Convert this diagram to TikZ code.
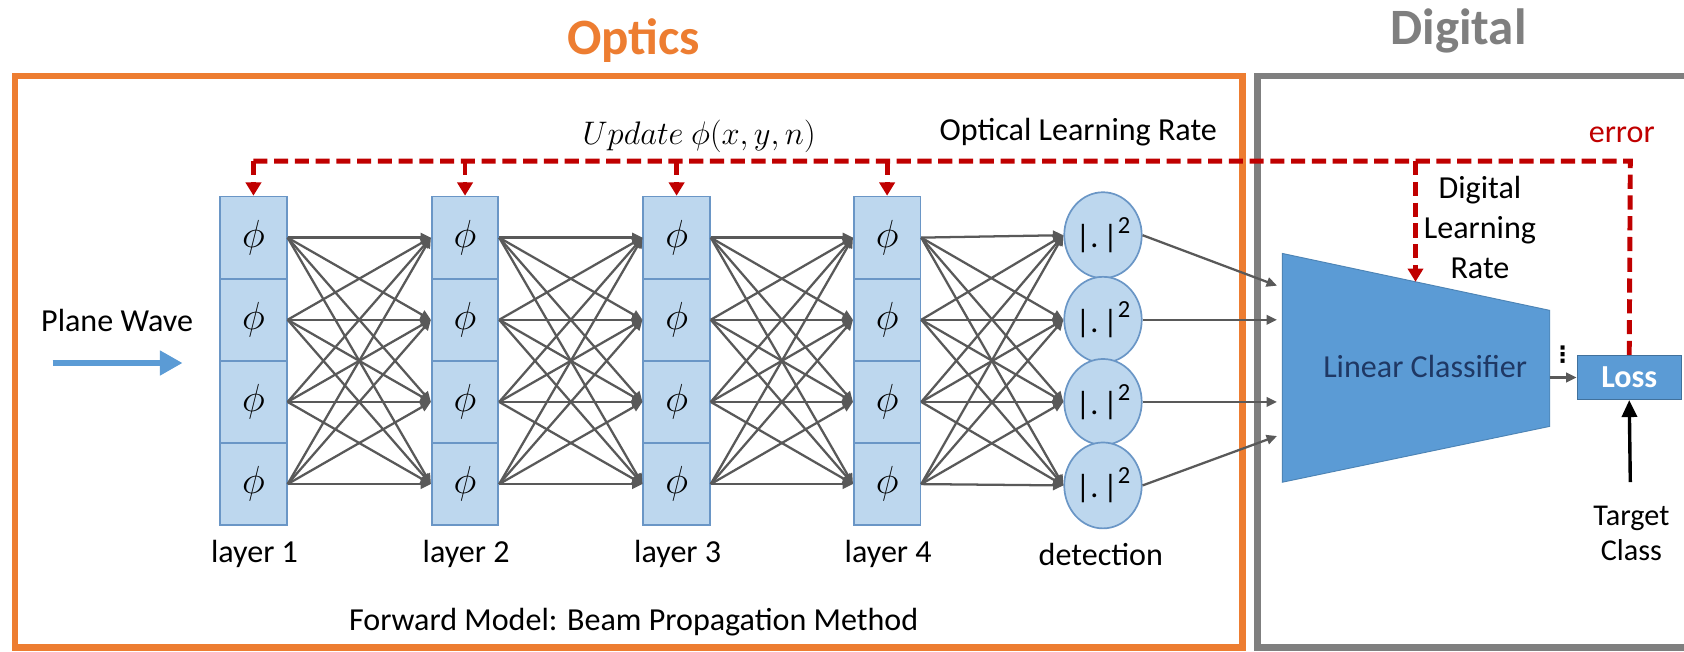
\documentclass[tikz,border=0pt]{standalone}
\usepackage{fontspec}
\setmainfont{Carlito}
\newfontfamily\djv{DejaVu Sans}
\usetikzlibrary{arrows.meta,shapes.geometric,calc}
\definecolor{orng}{HTML}{ED7D31}
\definecolor{gry}{HTML}{7F7F7F}
\definecolor{cellfill}{HTML}{BDD7EE}
\definecolor{celldraw}{HTML}{6A96C6}
\definecolor{midblue}{HTML}{5B9BD5}
\definecolor{boxedge}{HTML}{41719C}
\definecolor{darkred}{HTML}{C00000}
\definecolor{linegray}{HTML}{595959}
\definecolor{navy}{HTML}{1F3864}
\tikzset{
  txt/.style={font=\fontsize{17}{20}\selectfont, inner sep=0pt},
  title/.style={font=\fontsize{27}{30}\selectfont\bfseries, inner sep=0pt},
  cellbox/.style={draw=celldraw, fill=cellfill, line width=0.9pt, minimum width=1.24cm, minimum height=1.53cm, inner sep=0pt, font=\fontsize{20}{24}\selectfont},
  detect/.style={ellipse, draw=celldraw, fill=cellfill, line width=0.9pt, minimum width=1.36cm, minimum height=1.6cm, inner sep=0pt, font=\fontsize{17}{20}\selectfont},
  fc/.style={draw=linegray, line width=1.2pt, -{Triangle[width=5pt,length=5.5pt]}},
  reddash/.style={draw=darkred, line width=2.6pt, dash pattern=on 7.5pt off 3.5pt},
  redarrow/.style={reddash, -{Triangle[width=8pt,length=7pt]}},
  blackarrow/.style={draw=black, line width=1.8pt, -{Triangle[width=8pt,length=9pt]}},
  wavearrow/.style={draw=midblue, line width=3.4pt, -{Triangle[width=12.5pt,length=12pt]}},
  frame/.style={line width=3.4pt},
}
\begin{document}
\begin{tikzpicture}[x=0.02cm,y=-0.02cm]
\useasboundingbox (0,0) rectangle (1568,607);
\clip (0,0) rectangle (1568,607);
\fill[white] (0,0) rectangle (1568,607);

% frames
\draw[frame, orng] (13.7,70.8) rectangle (1157,603);
\draw[frame, gry] (1171,70.8) rectangle (1600,603);
\node[title, text=orng] (optics) at (590,38) {Optics};
\node[title, text=gry] (digital) at (1358,29) {Digital};

% plane wave
\node[txt] (pw) at (109,298) {Plane Wave};
\coordinate (pwa) at (49,338);
\coordinate (pwb) at (170,338);
\draw[wavearrow] (pwa) -- (pwb);

% layers
\foreach \l/\x in {1/236,2/433,3/630,4/826}{
  \foreach \r/\y in {1/221.25,2/297.75,3/374.25,4/450.75}{
    \node[cellbox] (L\l-\r) at (\x,\y) {$\phi$};
  }
  \node[txt] (lab\l) at (\x+1,516) {layer \l};
}
% detection
\foreach \r/\y in {1/219,2/297.75,3/374.25,4/452}{
  \node[detect] (D\r) at (1027,\y) {|.\kern2.5pt|\raisebox{0.45em}{\fontsize{13}{13}\selectfont 2}};
}
\node[txt] (labd) at (1025,516) {detection};

% fully connected
\foreach \a/\b in {1/2,2/3,3/4}{
  \foreach \i in {1,...,4}{
    \foreach \j in {1,...,4}{
      \draw[fc] (L\a-\i.east) -- (L\b-\j.west);
    }
  }
}
\foreach \i in {1,...,4}{
  \foreach \j in {1,...,4}{
    \draw[fc] (L4-\i.east) -- (D\j.west);
  }
}

\node[txt] (fwd) at (590,579) {Forward Model: Beam Propagation Method};

% classifier
\coordinate (tA) at (1194,236);
\coordinate (tB) at (1443,289);
\coordinate (tC) at (1443,397);
\coordinate (tD) at (1194,449);
\filldraw[fill=midblue, draw=midblue!85!black, line width=0.5pt] (tA) -- (tB) -- (tC) -- (tD) -- cycle;
\node[txt, text=navy] (lc) at (1327,341) {Linear Classifier};
\coordinate (t1) at (1189,266);
\coordinate (t2) at (1189,297.75);
\coordinate (t3) at (1189,374.25);
\coordinate (t4) at (1189,406);
\draw[fc] (D1.east) -- (t1);
\draw[fc] (D2.east) -- (t2);
\draw[fc] (D3.east) -- (t3);
\draw[fc] (D4.east) -- (t4);

% loss
\node[draw=boxedge, fill=midblue, line width=0.6pt, minimum width=1.94cm, minimum height=0.82cm, inner sep=0pt, text=white, font=\fontsize{17}{20}\selectfont\bfseries] (loss) at (1517,351.5) {Loss};
\coordinate (tout) at (1443,351.5);
\draw[fc] (tout) -- (loss.west);
\node[inner sep=0pt, font=\djv\bfseries\fontsize{12}{12}\selectfont] (dots) at (1455,330) {⋮};

% target
\node[txt, font=\fontsize{16}{18.7}\selectfont, align=center] (tc) at (1519,497) {Target\\Class};
\coordinate (tca) at (1518,449);
\draw[blackarrow] (tca) -- (loss.south);

% feedback
\coordinate (rc) at (1518,150);
\coordinate (dl) at (1318,150);
\coordinate (tdl) at (1318,262.4);
\foreach \l/\x in {1/236,2/433,3/630,4/826}{
  \coordinate (u\l) at (\x,150);
}
\draw[reddash] (loss.north) -- (rc) -- (u1);
\foreach \l in {1,...,4}{
  \draw[redarrow] (u\l) -- (L\l-1.north);
}
\draw[redarrow] (dl) -- (tdl);

\node[txt, font=\fontsize{18}{20}\selectfont] (upd) at (651,127) {$Update\ \phi(x,y,n)$};
\node[txt] (olr) at (1004,123) {Optical Learning Rate};
\node[txt, text=darkred] (err) at (1510,126) {error};
\node[txt, align=center, font=\fontsize{17}{21.3}\selectfont] (dlr) at (1378,212) {Digital\\Learning\\Rate};
\end{tikzpicture}
\end{document}
